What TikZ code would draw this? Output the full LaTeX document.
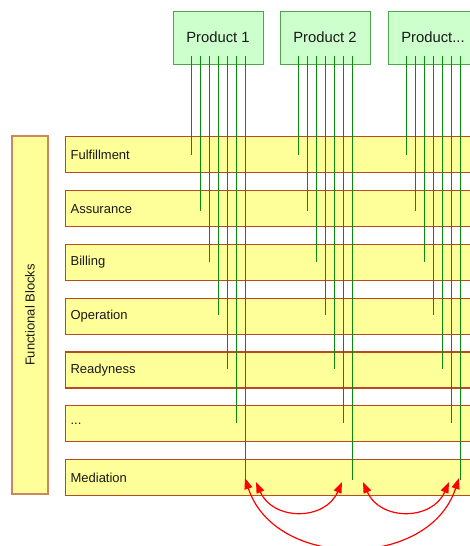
\documentclass[tikz,border=0pt]{standalone}
\usepackage{fontspec}
\setmainfont{Liberation Sans}
\usetikzlibrary{arrows.meta}

\definecolor{bandfill}{RGB}{255,255,153}
\definecolor{bandline}{RGB}{185,75,35}
\definecolor{blockline}{RGB}{205,135,95}
\definecolor{prodfill}{RGB}{204,255,204}
\definecolor{prodline}{RGB}{75,165,75}
\definecolor{wirecol}{RGB}{10,140,10}
\definecolor{textcol}{RGB}{25,25,25}

\begin{document}
\begin{tikzpicture}[x=1pt,y=-1pt,
  product/.style={draw=prodline, fill=prodfill, line width=1pt,
    minimum width=90pt, minimum height=53pt, inner sep=0pt,
    font=\fontsize{14.8}{17}\selectfont, text=textcol},
  band/.style={draw=bandline, fill=bandfill, line width=1.2pt,
    minimum width=415pt, minimum height=36pt, inner ysep=0pt, inner xsep=5pt,
    text width=405pt, align=left, anchor=north west,
    font=\fontsize{13}{15}\selectfont, text=textcol},
  blockcol/.style={draw=blockline, fill=bandfill, line width=1.2pt,
    minimum width=358pt, minimum height=36pt, inner sep=0pt, rotate=90,
    font=\fontsize{13}{15}\selectfont, text=textcol},
  wire/.style={draw=wirecol, line width=1pt},
  link/.style={draw=red, line width=1.2pt,
    {Triangle[length=11pt,width=8pt]}-{Triangle[length=11pt,width=8pt]}}
]
\useasboundingbox (0,0) rectangle (470,546);

% column of functional blocks
\node[blockcol] (fb) at (30,315) {Functional Blocks};

% horizontal function bands
\node[band] (b1) at (65,136)   {Fulfillment};
\node[band] (b2) at (65,190)   {Assurance};
\node[band] (b3) at (65,244)   {Billing};
\node[band] (b4) at (65,297.5) {Operation};
\node[band] (b5) at (65,351.3) {Readyness};
\node[band] (b6) at (65,405)   {...};
\node[band] (b7) at (65,458.8) {Mediation};

% products
\node[product] (p1) at (218,37.5) {Product 1};
\node[product] (p2) at (325,37.5) {Product 2};
\node[product] (p3) at (433,37.5) {Product...};

% one wire from each product down to each band
\foreach \p/\cx in {p1/218, p2/325, p3/433} {
  \foreach \k/\e in {1/155, 2/211, 3/262, 4/315, 5/369, 6/423, 7/480} {
    \coordinate (\p-top\k) at ({\cx+(\k-4)*9}, 56);
    \coordinate (\p-end\k) at ({\cx+(\k-4)*9}, \e);
    \draw[wire] (\p-top\k) -- (\p-end\k);
  }
}

% mediation exchanges between products
\coordinate (m1) at (245,478);
\coordinate (m2) at (256,482);
\coordinate (m3) at (342,482);
\coordinate (m4) at (363,482);
\coordinate (m5) at (449,482);
\coordinate (m6) at (459,478);
\draw[link] (m2) .. controls +(17,39) and +(-17,39) .. (m3);
\draw[link] (m4) .. controls +(17,39) and +(-17,39) .. (m5);
\draw[link] (m1) .. controls +(30,92) and +(-30,92) .. (m6);
\end{tikzpicture}
\end{document}
